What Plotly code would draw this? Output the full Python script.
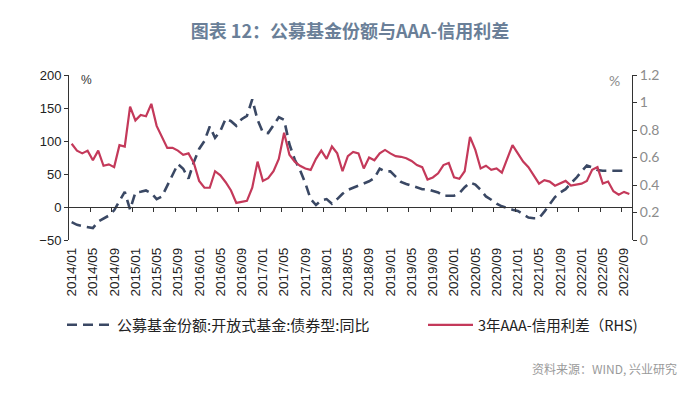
import plotly.graph_objects as go

# ---- data (monthly, 2014/01 .. 2022/10) ----
tick_labels = ["2014/01", "2014/05", "2014/09", "2015/01", "2015/05", "2015/09",
               "2016/01", "2016/05", "2016/09", "2017/01", "2017/05", "2017/09",
               "2018/01", "2018/05", "2018/09", "2019/01", "2019/05", "2019/09",
               "2020/01", "2020/05", "2020/09", "2021/01", "2021/05", "2021/09",
               "2022/01", "2022/05", "2022/09"]

fund_yoy = [
    -23, -27, -29, -31, -32, -22, -18, -13, -5, 8,
    23, -4, 22, 23, 25, 21, 12, 16, 32, 50,
    65, 58, 43, 68, 88, 100, 122, 105, 115, 134,
    130, 123, 133, 138, 163, 132, 113, 112, 125, 136,
    132, 95, 72, 56, 36, 12, 3, 10, 12, 5,
    12, 20, 26, 29, 33, 36, 39, 44, 58, 54,
    54, 46, 38, 35, 32, 30, 27, 27, 25, 22,
    17, 17, 17, 21, 30, 37, 34, 26, 16, 11,
    5, 1, -2, -4, -6, -11, -16, -17, -17, -7,
    5, 15, 22, 27, 36, 44, 54, 63, 60, 56,
    55, 55, 55, 55, 55,
]

spread = [
    0.70, 0.65, 0.63, 0.65, 0.58, 0.65, 0.54, 0.55, 0.53, 0.69,
    0.68, 0.97, 0.87, 0.91, 0.90, 0.99, 0.83, 0.75, 0.67, 0.67,
    0.65, 0.62, 0.63, 0.56, 0.43, 0.38, 0.38, 0.50, 0.47, 0.42,
    0.36, 0.27, 0.28, 0.285, 0.38, 0.57, 0.43, 0.45, 0.50, 0.59,
    0.78, 0.62, 0.57, 0.54, 0.52, 0.51, 0.59, 0.65, 0.59, 0.68,
    0.63, 0.50, 0.61, 0.64, 0.63, 0.52, 0.60, 0.58, 0.63, 0.655,
    0.63, 0.61, 0.605, 0.595, 0.575, 0.545, 0.53, 0.44, 0.455, 0.485,
    0.545, 0.56, 0.455, 0.445, 0.50, 0.75, 0.655, 0.52, 0.54, 0.51,
    0.52, 0.49, 0.59, 0.69, 0.63, 0.57, 0.53, 0.47, 0.41, 0.435,
    0.425, 0.395, 0.41, 0.43, 0.395, 0.40, 0.41, 0.43, 0.51, 0.53,
    0.41, 0.425, 0.355, 0.33, 0.35, 0.335,
]

left_ticks = [-50, 0, 50, 100, 150, 200]
right_ticks = [0, 0.2, 0.4, 0.6, 0.8, 1.0, 1.2]
right_tick_text = ["0", "0.2", "0.4", "0.6", "0.8", "1", "1.2"]

name_fund = "公募基金份额:开放式基金:债券型:同比"
name_spread = "3年AAA-信用利差（RHS)"

idx_fund = list(range(len(fund_yoy)))
idx_spread = list(range(len(spread)))
label_pos = [i * 4 for i in range(len(tick_labels))]
boundary_ticks = [i * 4 + 3.5 for i in range(len(tick_labels))]
x_range = [-0.5, len(spread) - 0.5]

fig = go.Figure()
fig.add_trace(go.Scatter(
    x=idx_fund, y=fund_yoy, mode="lines", name=name_fund, legend="legend",
    line=dict(color="#3a4864", width=2.6, dash="10px,6px"), yaxis="y"))
fig.add_trace(go.Scatter(
    x=idx_spread, y=spread, mode="lines", name=name_spread, legend="legend2",
    line=dict(color="#c4395a", width=2.2), yaxis="y2"))
# helper trace so the zero-line axis (with its tick marks) is drawn
fig.add_trace(go.Scatter(x=[0], y=[None], xaxis="x2", yaxis="y",
                         showlegend=False, hoverinfo="skip"))

axis_col = "#333333"
PW, PH = 563, 165  # plot area size in px (x 69..632, y 75..240)
legend_font = dict(family="Noto Sans CJK SC", size=15, color="#222222")
fig.update_layout(
    width=700, height=401,
    margin=dict(l=69, r=68, t=75, b=161, autoexpand=False),
    paper_bgcolor="white", plot_bgcolor="white",
    title=dict(text="图表 12：公募基金份额与AAA-信用利差",
               x=0.5, xref="container", xanchor="center",
               y=1 - 32 / 401, yref="container", yanchor="middle",
               font=dict(family="Noto Sans CJK SC", size=18, color="#6a7f98", weight="bold")),
    xaxis=dict(range=x_range, tickvals=label_pos, ticktext=tick_labels, automargin=False,
               tickangle=-90, showline=False, ticks="", showgrid=False, zeroline=False,
               ticklabelstandoff=4,
               tickfont=dict(family="Liberation Sans", size=13.5, color="#222222")),
    xaxis2=dict(range=x_range, overlaying="x", anchor="free", position=0.2, automargin=False,
                tickvals=boundary_ticks, ticks="outside", ticklen=4, tickcolor=axis_col,
                showticklabels=False, showline=True, linecolor=axis_col, linewidth=1,
                showgrid=False, zeroline=False),
    yaxis=dict(range=[-50, 200], tickvals=left_ticks, showline=True, linecolor=axis_col,
               automargin=False,
               ticks="outside", ticklen=4, tickcolor=axis_col, showgrid=False, zeroline=False,
               tickfont=dict(family="Liberation Sans", size=13, color="#222222")),
    yaxis2=dict(range=[0, 1.2], overlaying="y", side="right", tickvals=right_ticks,
                ticktext=right_tick_text, showline=True, linecolor=axis_col, automargin=False,
                ticks="outside", ticklen=4, tickcolor=axis_col, showgrid=False, zeroline=False,
                tickfont=dict(family="Lato", size=14, color="#8c8c8c")),
    legend=dict(orientation="h", x=(62 - 69) / PW, xanchor="left",
                y=(240 - 325) / PH, yanchor="middle", itemwidth=45,
                font=legend_font, bgcolor="rgba(0,0,0,0)"),
    legend2=dict(orientation="h", x=(423 - 69) / PW, xanchor="left",
                 y=(240 - 325) / PH, yanchor="middle", itemwidth=45,
                 font=dict(family="Noto Sans CJK SC", size=14.5, color="#222222"),
                 bgcolor="rgba(0,0,0,0)"),
    showlegend=True,
    annotations=[
        dict(text="%", xref="paper", yref="paper", x=(86 - 69) / PW, y=(240 - 80) / PH,
             showarrow=False, xanchor="center", yanchor="middle",
             font=dict(family="Liberation Sans", size=12, color="#333333")),
        dict(text="%", xref="paper", yref="paper", x=(614 - 69) / PW, y=(240 - 80) / PH,
             showarrow=False, xanchor="center", yanchor="middle",
             font=dict(family="Lato", size=14, color="#8c8c8c")),
        dict(text="资料来源：WIND, 兴业研究", xref="paper", yref="paper",
             x=(679 - 69) / PW, y=(240 - 368) / PH, showarrow=False,
             xanchor="right", yanchor="middle",
             font=dict(family="Noto Sans CJK SC", size=12, color="#9a9a9a")),
    ],
)

fig.write_html("out.html", config={"displayModeBar": False},
               post_script="document.body.style.margin='0';document.body.style.overflow='hidden';")
